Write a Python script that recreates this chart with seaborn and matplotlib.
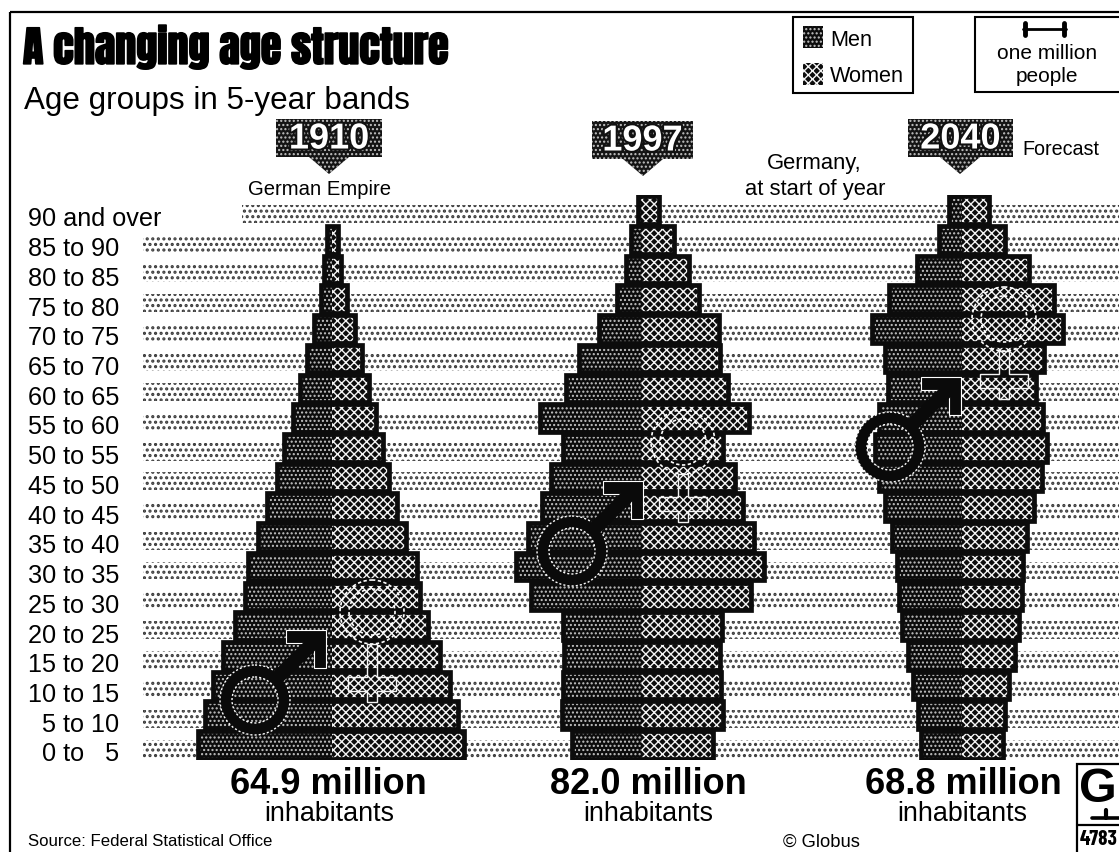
import numpy as np
import pandas as pd
import seaborn as sns
import matplotlib
matplotlib.use("Agg")
import matplotlib.pyplot as plt
from matplotlib.patches import Circle, Polygon, Rectangle
from matplotlib import patheffects as pe

sns.set_theme(style="white")
plt.rcParams["font.family"] = ["Liberation Sans", "DejaVu Sans"]
HEAVY_CONDENSED = ["Anton", "Barlow Condensed", "Liberation Sans", "DejaVu Sans"]
CONDENSED = ["Barlow Condensed", "Liberation Sans", "DejaVu Sans"]

ages = ["90 and over", "85 to 90", "80 to 85", "75 to 80", "70 to 75", "65 to 70",
        "60 to 65", "55 to 60", "50 to 55", "45 to 50", "40 to 45", "35 to 40",
        "30 to 35", "25 to 30", "20 to 25", "15 to 20", "10 to 15", "  5 to 10", "  0 to   5"]

# population per age band, millions
men_1910 = [np.nan, .14, .23, .31, .51, .71, .91, 1.11, 1.37, 1.57, 1.86, 2.11, 2.40, 2.49, 2.77, 3.11, 3.40, 3.63, 3.83]
women_1910 = [np.nan, .17, .26, .43, .66, .86, 1.06, 1.26, 1.46, 1.63, 1.86, 2.11, 2.43, 2.51, 2.74, 3.09, 3.37, 3.60, 3.77]
men_1997 = [.11, .31, .46, .71, 1.23, 1.80, 2.17, 2.91, 2.26, 2.60, 2.86, 3.26, 3.60, 3.17, 2.26, 2.23, 2.26, 2.29, 2.00]
women_1997 = [.49, .91, 1.34, 1.63, 2.20, 2.23, 2.46, 3.06, 2.31, 2.66, 2.89, 3.20, 3.49, 3.11, 2.29, 2.23, 2.26, 2.31, 2.03]
men_2040 = [.37, .66, 1.29, 2.09, 2.57, 2.20, 2.11, 2.37, 2.49, 2.37, 2.20, 2.00, 1.86, 1.80, 1.71, 1.54, 1.40, 1.26, 1.17]
women_2040 = [.77, 1.23, 1.91, 2.63, 2.89, 2.34, 2.11, 2.31, 2.43, 2.29, 2.06, 1.86, 1.74, 1.71, 1.63, 1.51, 1.34, 1.23, 1.17]

years = ["1910", "1997", "2040"]
totals = ["64.9 million", "82.0 million", "68.8 million"]
men_by_year = [men_1910, men_1997, men_2040]
women_by_year = [women_1910, women_1997, women_2040]

W, H = 1119, 853
PX_PER_MILLION = 35
ROW_TOP, ROW_PITCH = 211.0, 29.72
BAR_WIDTH = 0.93
centres = [332, 642, 962]
MEN_HATCH = ("....", "#c4c4c4", 1.0)
WOMEN_HATCH = ("xxxx", "#f4f4f4", 1.0)

fig = plt.figure(figsize=(W / 100, H / 100), dpi=100, facecolor="white")


def px_axes(left, top, right, bottom, **kw):
    return fig.add_axes([left / W, 1 - bottom / H, (right - left) / W, (bottom - top) / H], **kw)


axes_top = ROW_TOP - ROW_PITCH / 2
axes_bottom = ROW_TOP + 18.5 * ROW_PITCH

# stippled bands behind the pyramids, with the age labels as tick labels
bg = px_axes(0, axes_top, W, axes_bottom, zorder=1)
bg.set_xlim(0, W)
bg.set_ylim(18.5, -0.5)
band_start = [242] + [143] * 18
for i, start in enumerate(band_start):
    band = bg.barh(i + 0.13, W - start, left=start, height=0.6, color="white",
                   edgecolor="#3a3a3a", linewidth=0, hatch="...")[0]
    band.set_hatch_linewidth(1.5)
bg.set_xticks([])
bg.set_yticks(np.arange(19) + 0.2, ages)
bg.tick_params(axis="y", length=0, pad=-28 * 0.72, labelsize=18.2, labelcolor="black")
for lab in bg.get_yticklabels():
    lab.set_ha("left")
sns.despine(ax=bg, left=True, bottom=True)
bg.patch.set_alpha(0)


def draw_side(ax, frame, column, style):
    hatch, colour, lw = style
    sns.barplot(data=frame, y="age", x=column, order=ages, ax=ax, color="#0c0c0c",
                saturation=1, width=BAR_WIDTH, errorbar=None)
    for bar in ax.containers[-1]:
        bar.set_hatch(hatch)
        bar.set_edgecolor(colour)
        bar.set_linewidth(0)
        bar.set_hatch_linewidth(lw)


for centre, men, women in zip(centres, men_by_year, women_by_year):
    half = 5.2
    ax = px_axes(centre - half * PX_PER_MILLION, axes_top, centre + half * PX_PER_MILLION,
                 axes_bottom, zorder=2)
    frame = pd.DataFrame({"age": ages, "men": -np.array(men), "women": women})
    draw_side(ax, frame, "men", MEN_HATCH)
    draw_side(ax, frame, "women", WOMEN_HATCH)
    # one heavy outline round each whole bar, men and women together
    ax.barh(np.arange(len(ages)), frame["women"] - frame["men"], left=frame["men"],
            height=BAR_WIDTH, fill=False, edgecolor="#0c0c0c", linewidth=3.4)
    ax.set_xlim(-half, half)
    ax.set_ylim(18.5, -0.5)
    ax.set_axis_off()

# overlay in pixel coordinates: frame, headings, tags, symbols, captions
ov = px_axes(0, 0, W, H, zorder=3)
ov.set_xlim(0, W)
ov.set_ylim(H, 0)
ov.set_axis_off()

ov.plot([10, W], [13, 13], color="black", lw=1.6, solid_capstyle="butt")
ov.plot([10, 10], [13, H], color="black", lw=1.6, solid_capstyle="butt")

ov.text(23, 48, "A changing age structure", family=HEAVY_CONDENSED, weight="black", fontsize=30.2,
        va="center", ha="left", color="black",
        path_effects=[pe.withStroke(linewidth=1.2, foreground="black")])
ov.text(24, 101, "Age groups in 5-year bands", fontsize=22.6, va="center", ha="left", color="black")

# year tags
tag_boxes = [(276, 382, 120, 158, 329), (592, 693, 122, 160, 643), (908, 1013, 120, 158, 960)]
for (x0, x1, y0, y1, tip), year in zip(tag_boxes, years):
    shape = Polygon([(x0, y0), (x1, y0), (x1, y1), (tip + 20, y1), (tip, y1 + 17), (tip - 20, y1),
                     (x0, y1)], closed=True, facecolor="#141414", edgecolor="#c4c4c4",
                    hatch="....", linewidth=0)
    shape.set_hatch_linewidth(1.0)
    ov.add_patch(shape)
    ov.text((x0 + x1) / 2, (y0 + y1) / 2 + 1, year, fontsize=26, weight="bold", color="white",
            ha="center", va="center",
            path_effects=[pe.withStroke(linewidth=3, foreground="#111111")])

ov.text(319, 189, "German Empire", fontsize=14.6, ha="center", va="center", color="black")
ov.text(814, 163, "Germany,", fontsize=15.8, ha="center", va="center", color="black")
ov.text(815, 189, "at start of year", fontsize=15.8, ha="center", va="center", color="black")
ov.text(1022, 149, "Forecast", fontsize=14.2, ha="left", va="center", color="black")

# sex key
ov.add_patch(Rectangle((793, 18), 120, 76, facecolor="white", edgecolor="black", lw=1.5))
sw_men = Rectangle((803, 27), 20, 22, facecolor="#0c0c0c", edgecolor=MEN_HATCH[1], hatch=MEN_HATCH[0], lw=0)
sw_men.set_hatch_linewidth(MEN_HATCH[2])
sw_women = Rectangle((803, 64), 20, 22, facecolor="#0c0c0c", edgecolor=WOMEN_HATCH[1], hatch=WOMEN_HATCH[0], lw=0)
sw_women.set_hatch_linewidth(WOMEN_HATCH[2])
ov.add_patch(sw_men)
ov.add_patch(sw_women)
ov.text(830, 40, "Men", fontsize=15.6, ha="left", va="center", color="black")
ov.text(830, 76, "Women", fontsize=15.6, ha="left", va="center", color="black")

# scale key
ov.add_patch(Rectangle((975, 18), 150, 75, facecolor="white", edgecolor="black", lw=1.5))
ov.plot([1023, 1066], [30, 30], color="black", lw=2)
ov.plot([1025, 1025], [24, 36], color="black", lw=3.5)
ov.plot([1064, 1064], [24, 36], color="black", lw=3.5)
ov.text(1047, 53, "one million", fontsize=15, ha="center", va="center", color="black")
ov.text(1047, 76, "people", fontsize=15, ha="center", va="center", color="black")


def male_symbol(cx, cy, tip=(71, -70)):
    ov.add_patch(Circle((cx, cy), 29, facecolor="none", edgecolor="#0a0a0a", lw=8.6))
    for radius in (23, 35):
        ov.add_patch(Circle((cx, cy), radius, facecolor="none", edgecolor="white", lw=1.0,
                            ls=(0, (1.5, 1.5))))
    tx, ty = cx + tip[0], cy + tip[1]
    ov.plot([cx + 22, tx - 8], [cy - 22, ty + 8], color="#0a0a0a", lw=10, solid_capstyle="butt")
    ov.add_patch(Polygon([(tx - 40, ty), (tx, ty), (tx, ty + 38), (tx - 12, ty + 38),
                          (tx - 12, ty + 13), (tx - 40, ty + 13)], closed=True, facecolor="#0a0a0a",
                         edgecolor="white", lw=0.8))


def female_symbol(cx, cy, stem, r=32):
    for radius in (r, r - 9):
        ov.add_patch(Circle((cx, cy), radius, facecolor="none", edgecolor="white", lw=1.2,
                            ls=(0, (2, 1.5))))
    ov.add_patch(Polygon([(cx - 5, cy + r), (cx + 5, cy + r), (cx + 5, cy + stem - 7), (cx + 24, cy + stem - 7),
                          (cx + 24, cy + stem + 7), (cx + 5, cy + stem + 7), (cx + 5, cy + stem + 18),
                          (cx - 5, cy + stem + 18), (cx - 5, cy + stem + 7), (cx - 24, cy + stem + 7),
                          (cx - 24, cy + stem - 7), (cx - 5, cy + stem - 7)], closed=True,
                         facecolor="none", edgecolor="#f4f4f4", lw=1.0))


male_symbol(255, 701)
female_symbol(372, 613, stem=72)
male_symbol(572, 552)
female_symbol(683, 443, stem=62)
male_symbol(890, 448)
female_symbol(1004, 320, stem=62)

# totals under each pyramid
total_x = [328, 648, 963]
inhab_x = [329, 648, 962]
for tx, ix, label in zip(total_x, inhab_x, totals):
    ov.text(tx, 785, label, fontsize=26, weight="bold", ha="center", va="center", color="black")
    ov.text(ix, 814, "inhabitants", fontsize=19.4, ha="center", va="center", color="black")

ov.text(28, 842, "Source: Federal Statistical Office", fontsize=12.1, ha="left", va="center", color="black")
ov.text(821, 842, "© Globus", fontsize=13.2, ha="center", va="center", color="black")

# publisher's mark, bottom right
ov.add_patch(Rectangle((1077, 765), 60, 100, facecolor="white", edgecolor="black", lw=1.6))
ov.plot([1077, W], [826, 826], color="black", lw=1.6)
ov.plot([1092, W], [819, 819], color="black", lw=2.6)
ov.plot([1106, 1106], [811, 819], color="black", lw=3)
ov.text(1079, 790, "G", fontsize=35, weight="bold", ha="left", va="center", color="black")
ov.text(1080, 840, "4783", family=CONDENSED, fontsize=15.5, weight="bold", ha="left", va="center",
        color="black")

fig.savefig("out.png", dpi=100, facecolor="white")
